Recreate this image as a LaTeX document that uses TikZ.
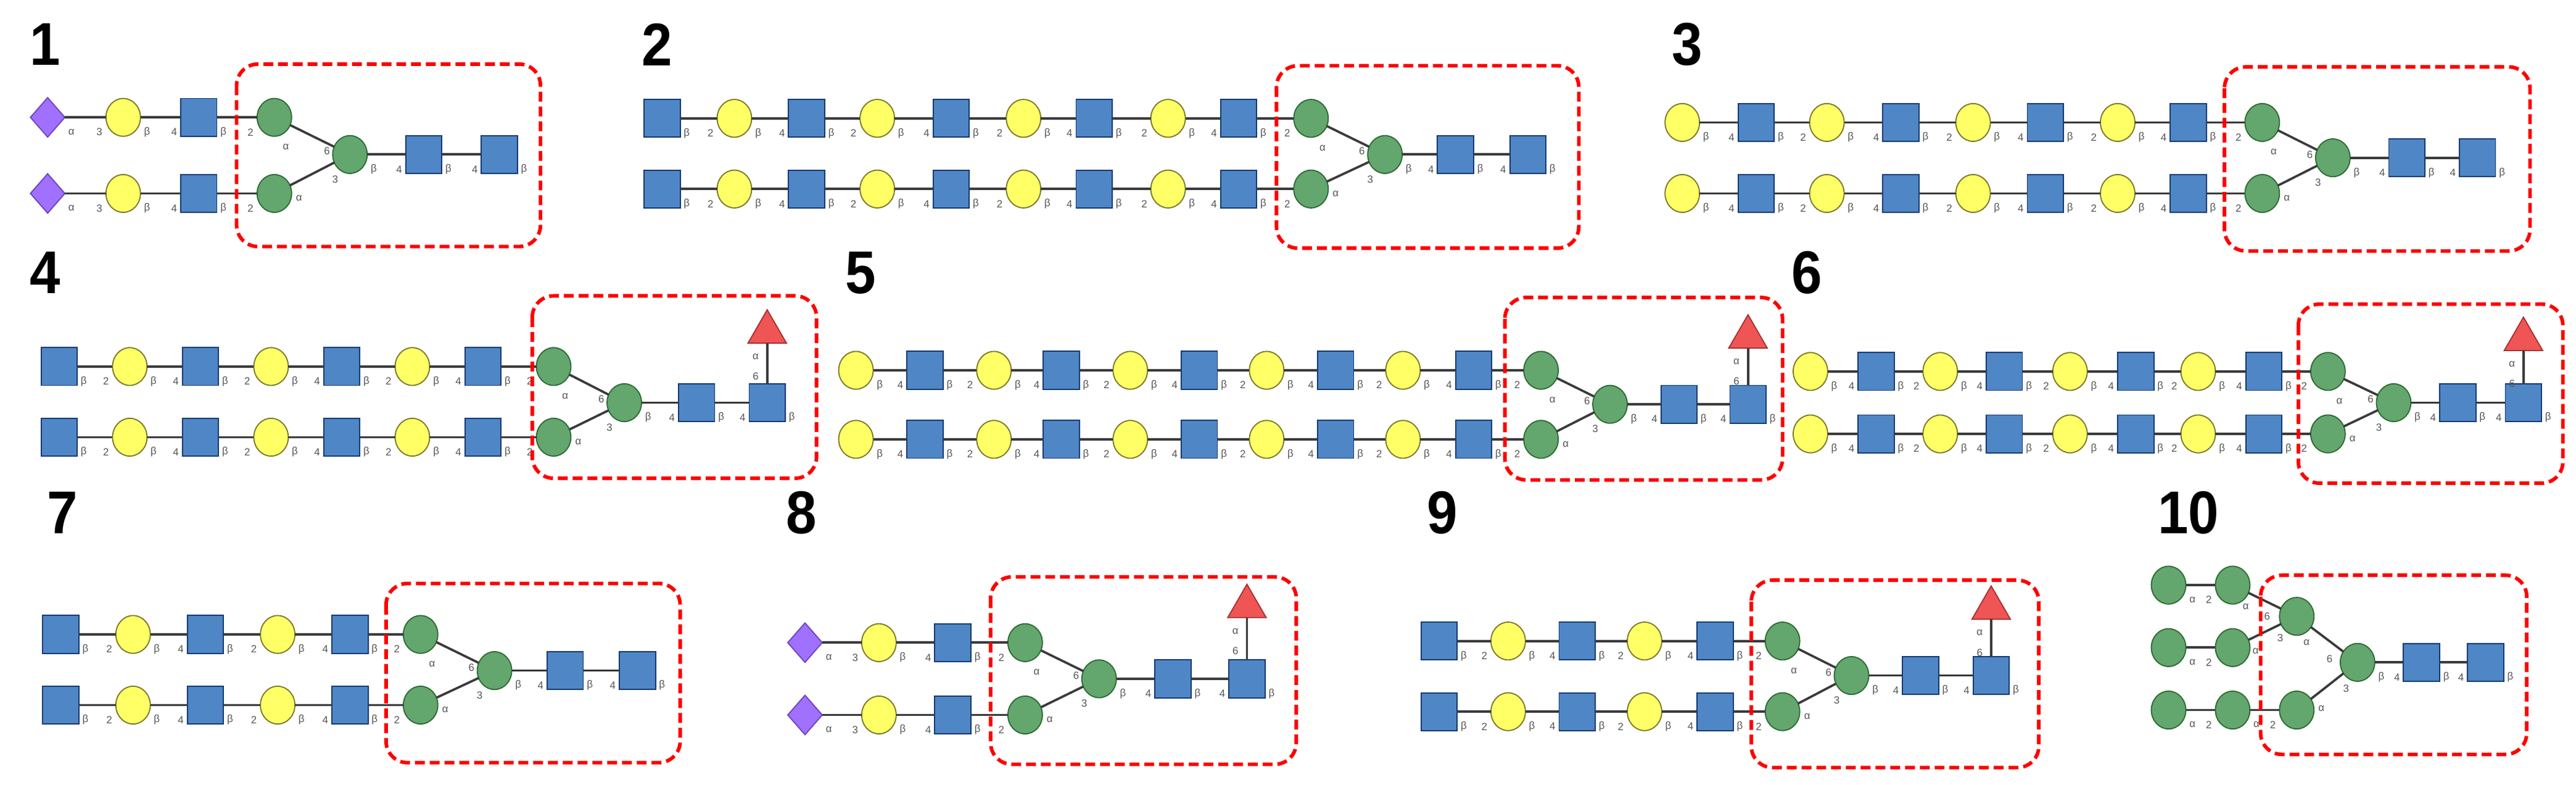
\documentclass[tikz,border=0pt]{standalone}
\usepackage{fontspec}
\setmainfont{Liberation Sans}
\usetikzlibrary{shapes.geometric}
\definecolor{gblue}{HTML}{4F86C6}\definecolor{gblueD}{HTML}{143A72}
\definecolor{gyel}{HTML}{FFFF66}\definecolor{gyelD}{HTML}{7A7A2A}
\definecolor{ggreen}{HTML}{63A66E}\definecolor{ggreenD}{HTML}{2E6B35}
\definecolor{gpur}{HTML}{A070FF}\definecolor{gpurD}{HTML}{6E44C0}
\definecolor{gred}{HTML}{F05555}\definecolor{gredD}{HTML}{A83030}
\definecolor{glink}{HTML}{3A3A3A}\definecolor{glab}{HTML}{555555}
\tikzset{
  base/.style={draw, line width=0.7mm, inner sep=0pt, outer sep=0pt},
  sq/.style={base, rectangle, fill=gblue, draw=gblueD, minimum width=22mm, minimum height=23mm},
  ci/.style={base, ellipse, fill=gyel, draw=gyelD, minimum width=21mm, minimum height=23mm},
  gr/.style={base, ellipse, fill=ggreen, draw=ggreenD, minimum width=21mm, minimum height=23mm},
  di/.style={base, diamond, fill=gpur, draw=gpurD, minimum width=21mm, minimum height=24mm},
  tri/.style={base, regular polygon, regular polygon sides=3, fill=gred, draw=gredD, minimum size=27mm},
  lk/.style={line width=1.4mm, draw=glink},
  lab/.style={font=\fontsize{18}{18}\selectfont, text=glab, inner sep=0pt},
  box/.style={draw=red, line width=2.2mm, dash pattern=on 6mm off 3mm, rounded corners=13mm},
  num/.style={font=\fontsize{95}{95}\selectfont\bfseries, inner sep=0pt, yscale=1.1}
}
\def\glansq{β}\def\glposq{2}\def\glanci{β}\def\glpoci{4}
\def\glandi{α}\def\glpodi{3}\def\glangr{α}\def\glpogr{2}
\newcommand\glrow[3]{%
  \foreach \t/\x [count=\i, remember=\i as \j (initially 0), remember=\t as \lt (initially sq)] in {#3} {
    \node[\t] (#1\i) at (\x,#2) {};
    \ifnum\i>1
      \draw[lk] (#1\j) -- (#1\i);
      \path (#1\j.east) ++(4,9) node[lab] {\csname glan\lt\endcsname};
      \path (#1\i.west) ++(-4,9) node[lab] {\csname glpo\lt\endcsname};
    \fi
  }}
\newcommand\glcore[9]{%
  \node[gr] (#1gt) at (#2,#3) {};
  \node[gr] (#1gb) at (#2,#4) {};
  \draw[lk] (#1t#9) -- (#1gt); \draw[lk] (#1b#9) -- (#1gb);
  \path (#1t#9.east) ++(4,9) node[lab] {β}; \path (#1gt.west) ++(-4,9) node[lab] {2};
  \path (#1b#9.east) ++(4,9) node[lab] {β}; \path (#1gb.west) ++(-4,9) node[lab] {2};
  \node[gr] (#1c) at (#5,#6) {};
  \draw[lk] (#1gt) -- (#1c); \draw[lk] (#1gb) -- (#1c);
  \node[lab] at (#2+7,#3+18) {α}; \node[lab] at (#5-14,#6-2) {6};
  \node[lab] at (#5-9,#6+15) {3}; \node[lab] at (#2+15,#4+3) {α};
  \node[sq] (#1s1) at (#7,#6) {}; \node[sq] (#1s2) at (#8,#6) {};
  \draw[lk] (#1c) -- (#1s1); \draw[lk] (#1s1) -- (#1s2);
  \path (#1c.east) ++(4,9) node[lab] {β}; \path (#1s1.west) ++(-4,9) node[lab] {4};
  \path (#1s1.east) ++(4,9) node[lab] {β}; \path (#1s2.west) ++(-4,9) node[lab] {4};
  \path (#1s2.east) ++(4,9) node[lab] {β};
}
\newcommand\glfuc[3]{%
  \node[tri] (#1f) at (#2,#3) {};
  \draw[lk] (#1s2) -- (#1f);
  \node[lab] at (#2-7,#3+15) {α}; \node[lab] at (#2-7,#3+27) {6};
}
\begin{document}
\begin{tikzpicture}[x=1mm,y=-1mm]
\useasboundingbox (0,0) rectangle (1568,477.6);
% numbers
\node[num] (n1) at (27.5,27) {1};
\node[num] (n2) at (400,27) {2};
\node[num] (n3) at (1027,27) {3};
\node[num] (n4) at (27.5,166) {4};
\node[num] (n5) at (524,166) {5};
\node[num] (n6) at (1100,166) {6};
\node[num] (n7) at (38,312) {7};
\node[num] (n8) at (488,312) {8};
\node[num] (n9) at (878,312) {9};
\node[num] (n10) at (1332,312) {10};
% panel 1
\glrow{a1t}{71.4}{di/29,ci/75,sq/121}
\glrow{a1b}{117.7}{di/29,ci/75,sq/121}
\glcore{a1}{167}{71.4}{117.7}{213}{94}{258}{304}{3}
\draw[box] (144,39) rectangle (329,150);
% panel 2
\glrow{a2t}{72}{sq/403,ci/447,sq/491,ci/534,sq/579,ci/623,sq/666,ci/711,sq/754}
\glrow{a2b}{115}{sq/403,ci/447,sq/491,ci/534,sq/579,ci/623,sq/666,ci/711,sq/754}
\glcore{a2}{798}{72}{115}{843}{94}{886}{930}{9}
\draw[box] (777,40) rectangle (961,151);
% panel 3
\glrow{a3t}{74.5}{ci/1024,sq/1069,ci/1112,sq/1157,ci/1201,sq/1245,ci/1289,sq/1332}
\glrow{a3b}{117.7}{ci/1024,sq/1069,ci/1112,sq/1157,ci/1201,sq/1245,ci/1289,sq/1332}
\glcore{a3}{1377}{74.5}{117.7}{1420}{96}{1465}{1508}{8}
\draw[box] (1354,40.7) rectangle (1540,152.7);
% panel 4
\glrow{a4t}{223}{sq/36,ci/79,sq/122,ci/165,sq/208,ci/251,sq/294}
\glrow{a4b}{266}{sq/36,ci/79,sq/122,ci/165,sq/208,ci/251,sq/294}
\glcore{a4}{337}{223}{266}{380}{245}{424}{467}{7}
\glfuc{a4}{467}{202}
\draw[box] (324,180) rectangle (497,291);
% panel 5
\glrow{a5t}{225.3}{ci/521,sq/563,ci/605,sq/646,ci/688,sq/730,ci/771,sq/813,ci/854,sq/897}
\glrow{a5b}{267.3}{ci/521,sq/563,ci/605,sq/646,ci/688,sq/730,ci/771,sq/813,ci/854,sq/897}
\glcore{a5}{938}{225.3}{267.3}{980}{246}{1022}{1064}{10}
\glfuc{a5}{1064}{205}
\draw[box] (916,181) rectangle (1085,292);
% panel 6
\glrow{a6t}{226}{ci/1102,sq/1142,ci/1181,sq/1220,ci/1260,sq/1300,ci/1338,sq/1378}
\glrow{a6b}{264}{ci/1102,sq/1142,ci/1181,sq/1220,ci/1260,sq/1300,ci/1338,sq/1378}
\glcore{a6}{1417}{226}{264}{1457}{245}{1496}{1536}{8}
\glfuc{a6}{1536}{206.5}
\draw[box] (1399,185) rectangle (1560,294);
% panel 7
\glrow{a7t}{386}{sq/37,ci/81,sq/125,ci/169,sq/213}
\glrow{a7b}{429}{sq/37,ci/81,sq/125,ci/169,sq/213}
\glcore{a7}{256}{386}{429}{301}{408}{344}{388}{5}
\draw[box] (235,355) rectangle (414,464);
% panel 8
\glrow{a8t}{391}{di/490,ci/535,sq/580}
\glrow{a8b}{435}{di/490,ci/535,sq/580}
\glcore{a8}{624}{391}{435}{669}{413}{714}{759}{3}
\glfuc{a8}{759}{369}
\draw[box] (603,351) rectangle (789,465);
% panel 9
\glrow{a9t}{390}{sq/876,ci/918,sq/960,ci/1001,sq/1044}
\glrow{a9b}{433}{sq/876,ci/918,sq/960,ci/1001,sq/1044}
\glcore{a9}{1085}{390}{433}{1127}{411}{1169}{1212}{5}
\glfuc{a9}{1212}{370}
\draw[box] (1066,353) rectangle (1241,467);
% panel 10
\node[gr] (j1) at (1320,356) {};
\node[gr] (j2) at (1359,356) {};
\node[gr] (j3) at (1320,394) {};
\node[gr] (j4) at (1359,394) {};
\node[gr] (j5) at (1320,432) {};
\node[gr] (j6) at (1359,432) {};
\node[gr] (j7) at (1398,432) {};
\node[gr] (jm) at (1398,375) {};
\node[gr] (jc) at (1435,403) {};
\node[sq] (js1) at (1474,403) {};
\node[sq] (js2) at (1513,403) {};
\foreach \a/\b in {j1/j2,j3/j4,j5/j6,j6/j7} {
  \draw[lk] (\a) -- (\b);
  \path (\a.east) ++(4,9) node[lab] {α};
  \path (\b.west) ++(-4,9) node[lab] {2};
}
\draw[lk] (j2) -- (jm); \draw[lk] (j4) -- (jm);
\draw[lk] (jm) -- (jc); \draw[lk] (j7) -- (jc);
\draw[lk] (jc) -- (js1); \draw[lk] (js1) -- (js2);
\node[lab] at (1367,369) {α}; \node[lab] at (1380,375) {6};
\node[lab] at (1388,388) {3}; \node[lab] at (1373,396) {α};
\node[lab] at (1404,391) {α}; \node[lab] at (1418,401) {6};
\node[lab] at (1428,419) {3}; \node[lab] at (1413,431) {α};
\path (jc.east) ++(4,9) node[lab] {β}; \path (js1.west) ++(-4,9) node[lab] {4};
\path (js1.east) ++(4,9) node[lab] {β}; \path (js2.west) ++(-4,9) node[lab] {4};
\path (js2.east) ++(4,9) node[lab] {β};
\draw[box] (1376,350) rectangle (1538,459);
\end{tikzpicture}
\end{document}
